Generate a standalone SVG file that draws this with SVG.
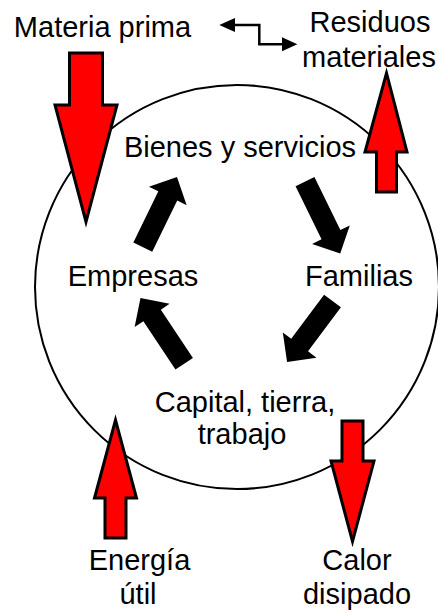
<svg xmlns="http://www.w3.org/2000/svg" width="438" height="612" viewBox="0 0 438 612">
<style>
text{font-family:"Liberation Sans",Arial,sans-serif;font-size:29px;fill:#000;text-anchor:middle}
.red{fill:#ff0000;stroke:#000;stroke-width:3;stroke-linejoin:miter}
.blk{fill:#000}
.ln{fill:none;stroke:#000;stroke-width:2.5}
</style>
<defs>
<polygon id="blockL78" points="0,-10.5 57,-10.5 57,-21 78,0 57,21 57,10.5 0,10.5"/>
</defs>
<g id="ciclo">
<circle cx="237" cy="287" r="202" fill="none" stroke="#000" stroke-width="2"/>
</g>
<g id="connectors">
<path class="ln" d="M233,25 H259.3 V44.3 H284"/>
<polygon class="blk" points="219.3,25 235,18 235,32"/>
<polygon class="blk" points="297.3,44.3 282,37.3 282,51.3"/>
<g transform="translate(142.8,247.2) rotate(-64)"><polygon class="blk" points="0,-10.5 57,-10.5 57,-21 78,0 57,21 57,10.5 0,10.5"/></g>
<g transform="translate(305,181.7) rotate(63.9)"><polygon class="blk" points="0,-10.5 59,-10.5 59,-21 80,0 59,21 59,10.5 0,10.5"/></g>
<g transform="translate(332.5,301) rotate(126.7)"><polygon class="blk" points="0,-10.5 55,-10.5 55,-21 76,0 55,21 55,10.5 0,10.5"/></g>
<g transform="translate(184.2,363.8) rotate(-123.6)"><polygon class="blk" points="0,-10.5 58,-10.5 58,-21 79,0 58,21 58,10.5 0,10.5"/></g>
<polygon class="red" points="69.5,53 102.5,53 102.5,105 117,105 86,222 55,105 69.5,105"/>
<polygon class="red" points="376.5,192 396.5,192 396.5,152 407,152 386.5,73 365,152 376.5,152"/>
<polygon class="red" points="105,538 126,538 126,498 136.5,498 115.5,420 94.5,498 105,498"/>
<polygon class="red" points="342,421 363,421 363,461 374,461 352.5,541.5 331,461 342,461"/>
</g>
<g id="materia-prima"><text x="102.5" y="37">Materia prima</text></g>
<g id="residuos"><text x="370" y="32">Residuos</text><text x="369" y="67">materiales</text></g>
<g id="bienes"><text x="240" y="157">Bienes y servicios</text></g>
<g id="empresas"><text x="133" y="286">Empresas</text></g>
<g id="familias"><text x="359" y="286">Familias</text></g>
<g id="capital"><text x="245" y="412">Capital, tierra,</text><text x="242" y="444">trabajo</text></g>
<g id="energia"><text x="139.5" y="570">Energía</text><text x="138" y="604">útil</text></g>
<g id="calor"><text x="357" y="570">Calor</text><text x="357" y="604">disipado</text></g>
</svg>
